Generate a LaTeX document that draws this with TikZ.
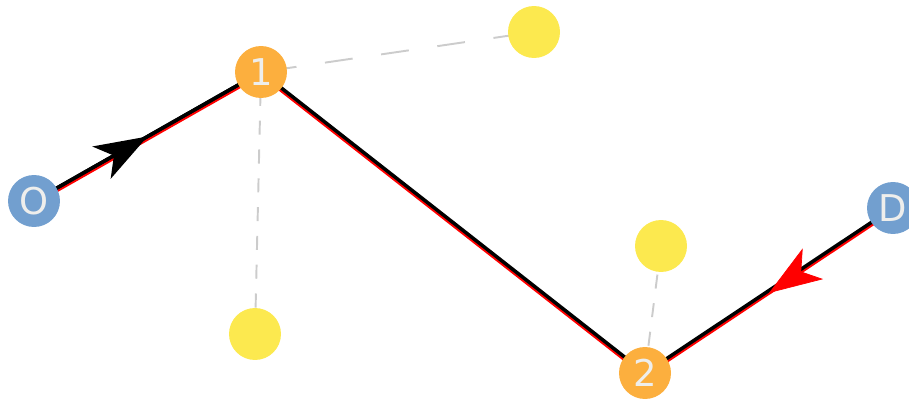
\documentclass[tikz,border=0pt]{standalone}
\usepackage{fontspec}
\setsansfont{DejaVu Sans}
\usetikzlibrary{arrows.meta,backgrounds,decorations.markings}
\definecolor{skyblue}{HTML}{729FCF}
\definecolor{tangoorange}{HTML}{FCAF3E}
\definecolor{butter}{HTML}{FCE94F}
\definecolor{lightgrey}{HTML}{EEEEEC}
\definecolor{dashgrey}{HTML}{CCCCCC}
\begin{document}
\begin{tikzpicture}[x=0.02cm,y=-0.02cm,stopnode/.style={circle,minimum size=1.04cm,inner sep=0pt,fill=#1,text=lightgrey,font=\sffamily\fontsize{21}{21}\selectfont},poi/.style={circle,minimum size=1.04cm,inner sep=0pt,fill=butter},link/.style={dashgrey,line width=1.1pt},route/.style={line width=2pt},midarrow/.style={postaction={decorate},decoration={markings,mark=at position .5 with {\arrow[#1]{Stealth[length=30pt,width=21pt,inset=8pt]}}}}]
\useasboundingbox (0,0) rectangle (909,399);
\node[stopnode=skyblue] (O) at (34,201) {O};
\node[stopnode=tangoorange] (1) at (261,72) {1};
\node[stopnode=tangoorange] (2) at (645,373) {2};
\node[stopnode=skyblue] (D) at (893,208) {D};
\node[poi] (p1) at (534,32) {};
\node[poi] (p2) at (255,334) {};
\node[poi] (p3) at (661,246) {};
\begin{scope}[on background layer]
\draw[link,dash pattern=on 15.9pt off 16.4pt,dash phase=27.8pt] (1.center)--(p1.center);
\draw[link,dash pattern=on 8pt off 8.4pt,dash phase=5.1pt] (1.center)--(p2.center);
\draw[link,dash pattern=on 8pt off 8.4pt] (p3.center)--(2.center);
\draw[route,red] ([yshift=-1.4pt]O.center)--([yshift=-1.4pt]1.center)--([yshift=-1.4pt]2.center)--([yshift=-1.4pt]D.center);
\draw[route] (O.center)--(1.center)--(2.center)--(D.center);
\draw[route,midarrow=black] (O.center)--(1.center);
\path[midarrow=red] ([yshift=-1.4pt]D.center)--([yshift=-1.4pt]2.center);
\end{scope}
\end{tikzpicture}
\end{document}
